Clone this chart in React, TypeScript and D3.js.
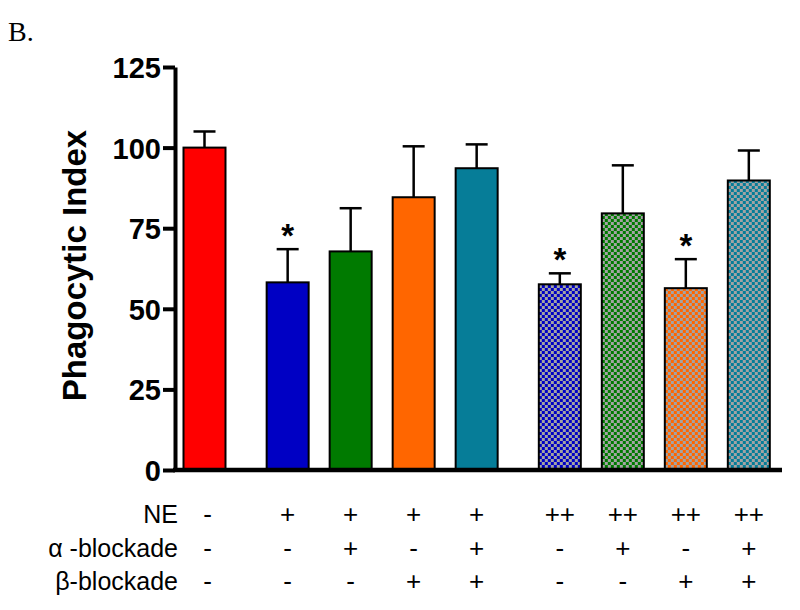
import React, { useRef, useEffect } from "react";
import * as d3 from "d3";

// bar values (Phagocytic Index) and upper error (mean + SEM)
const means = [100, 58.2, 67.8, 84.6, 93.6, 57.6, 79.6, 56.4, 89.8];
const upper = [105, 68.5, 81.2, 100.4, 101, 61, 94.5, 65.4, 99.1];
const colors = ["#ff0000", "#0000c4", "#007a00", "#ff6600", "#067d98", "#0000c4", "#007a00", "#ff6600", "#067d98"];
const checkered = [false, false, false, false, false, true, true, true, true];
const significant = [false, true, false, false, false, true, false, true, false];

const ne = ["-", "+", "+", "+", "+", "++", "++", "++", "++"];
const alpha = ["-", "-", "+", "-", "+", "-", "+", "-", "+"];
const beta = ["-", "-", "-", "+", "+", "-", "-", "+", "+"];
const rowLabels = ["NE", "α -blockade", "β-blockade"];
const yTicks = [0, 25, 50, 75, 100, 125];

const SANS = "'Liberation Sans', Arial, sans-serif";

const Chart = () => {
  const svgRef = useRef<SVGSVGElement>(null);

  useEffect(() => {
    const svg = d3.select(svgRef.current);
    svg.selectAll("*").remove();

    const yAxisX = 175, xAxisEnd = 782;
    const groupGap = 0.32;
    const barW = 42;

    const y = d3.scaleLinear().domain([0, 125]).range([470, 67]);
    // slot units -> pixels
    const x = d3.scaleLinear().domain([0, 1]).range([204.5, 267.5]);
    const groupOf = (i: number) => (ne[i] === "-" ? 0 : ne[i] === "+" ? 1 : 2);
    const cx = (i: number) => x(i + groupGap * groupOf(i));

    const defs = svg.append("defs");
    means.forEach((_, i) => {
      if (!checkered[i]) return;
      const p = defs.append("pattern")
        .attr("id", `chk${i}`)
        .attr("patternUnits", "userSpaceOnUse")
        .attr("x", cx(i) - barW / 2)
        .attr("y", 0)
        .attr("width", 6)
        .attr("height", 6);
      p.append("rect").attr("width", 6).attr("height", 6).attr("fill", "#a3a3a3");
      p.append("rect").attr("width", 3).attr("height", 3).attr("fill", colors[i]);
      p.append("rect").attr("x", 3).attr("y", 3).attr("width", 3).attr("height", 3).attr("fill", colors[i]);
    });

    svg.append("text")
      .attr("x", 8).attr("y", 41)
      .attr("font-family", "'Liberation Serif', 'Times New Roman', serif")
      .attr("font-size", 28)
      .text("B.");

    // bars
    const bars = svg.append("g");
    means.forEach((m, i) => {
      const c = cx(i);
      bars.append("line")
        .attr("x1", c).attr("x2", c)
        .attr("y1", y(m)).attr("y2", y(upper[i]))
        .attr("stroke", "#000").attr("stroke-width", 2.5);
      bars.append("line")
        .attr("x1", c - 11).attr("x2", c + 11)
        .attr("y1", y(upper[i])).attr("y2", y(upper[i]))
        .attr("stroke", "#000").attr("stroke-width", 2.5);
      bars.append("rect")
        .attr("x", c - barW / 2)
        .attr("y", y(m))
        .attr("width", barW)
        .attr("height", y(0) - y(m))
        .attr("fill", checkered[i] ? `url(#chk${i})` : colors[i])
        .attr("stroke", "#000")
        .attr("stroke-width", 2);
      if (significant[i]) {
        bars.append("text")
          .attr("x", c).attr("y", y(upper[i]) - 2)
          .attr("text-anchor", "middle")
          .attr("font-family", SANS)
          .attr("font-weight", "bold")
          .attr("font-size", 33)
          .text("*");
      }
    });

    // y axis
    const yAxis = svg.append("g")
      .attr("transform", `translate(${yAxisX},0)`)
      .call(d3.axisLeft(y).tickValues(yTicks).tickSize(12).tickPadding(2).tickSizeOuter(0));
    yAxis.select(".domain").attr("stroke-width", 4).attr("stroke", "#000");
    yAxis.selectAll(".tick line").attr("stroke-width", 4).attr("stroke", "#000");
    yAxis.selectAll(".tick text")
      .attr("font-family", SANS)
      .attr("font-weight", "bold")
      .attr("font-size", 29)
      .attr("fill", "#000")
      .attr("dy", "0.36em");

    // x axis line
    svg.append("line")
      .attr("x1", yAxisX - 2).attr("x2", xAxisEnd)
      .attr("y1", y(0)).attr("y2", y(0))
      .attr("stroke", "#000").attr("stroke-width", 4.5);

    svg.append("text")
      .attr("transform", `translate(86,${(y(0) + y(125)) / 2 - 3}) rotate(-90)`)
      .attr("text-anchor", "middle")
      .attr("font-family", SANS)
      .attr("font-weight", "bold")
      .attr("font-size", 33)
      .text("Phagocytic Index");

    // treatment table
    const rows = [ne, alpha, beta];
    const baselines = [523, 557, 590];
    rows.forEach((row, r) => {
      svg.append("text")
        .attr("x", 178).attr("y", baselines[r])
        .attr("text-anchor", "end")
        .attr("font-family", SANS)
        .attr("font-size", 25)
        .text(rowLabels[r]);
      row.forEach((s, i) => {
        svg.append("text")
          .attr("x", cx(i) + (i === 0 ? 3 : 0)).attr("y", baselines[r])
          .attr("text-anchor", "middle")
          .attr("font-family", SANS)
          .attr("font-size", 26)
          .text(s);
      });
    });
  }, []);

  return (
    <svg
      ref={svgRef}
      width={800}
      height={610}
      style={{ position: "absolute", left: 0, top: 0, background: "#fff" }}
    />
  );
};

export default function App() {
  return <Chart />;
}
